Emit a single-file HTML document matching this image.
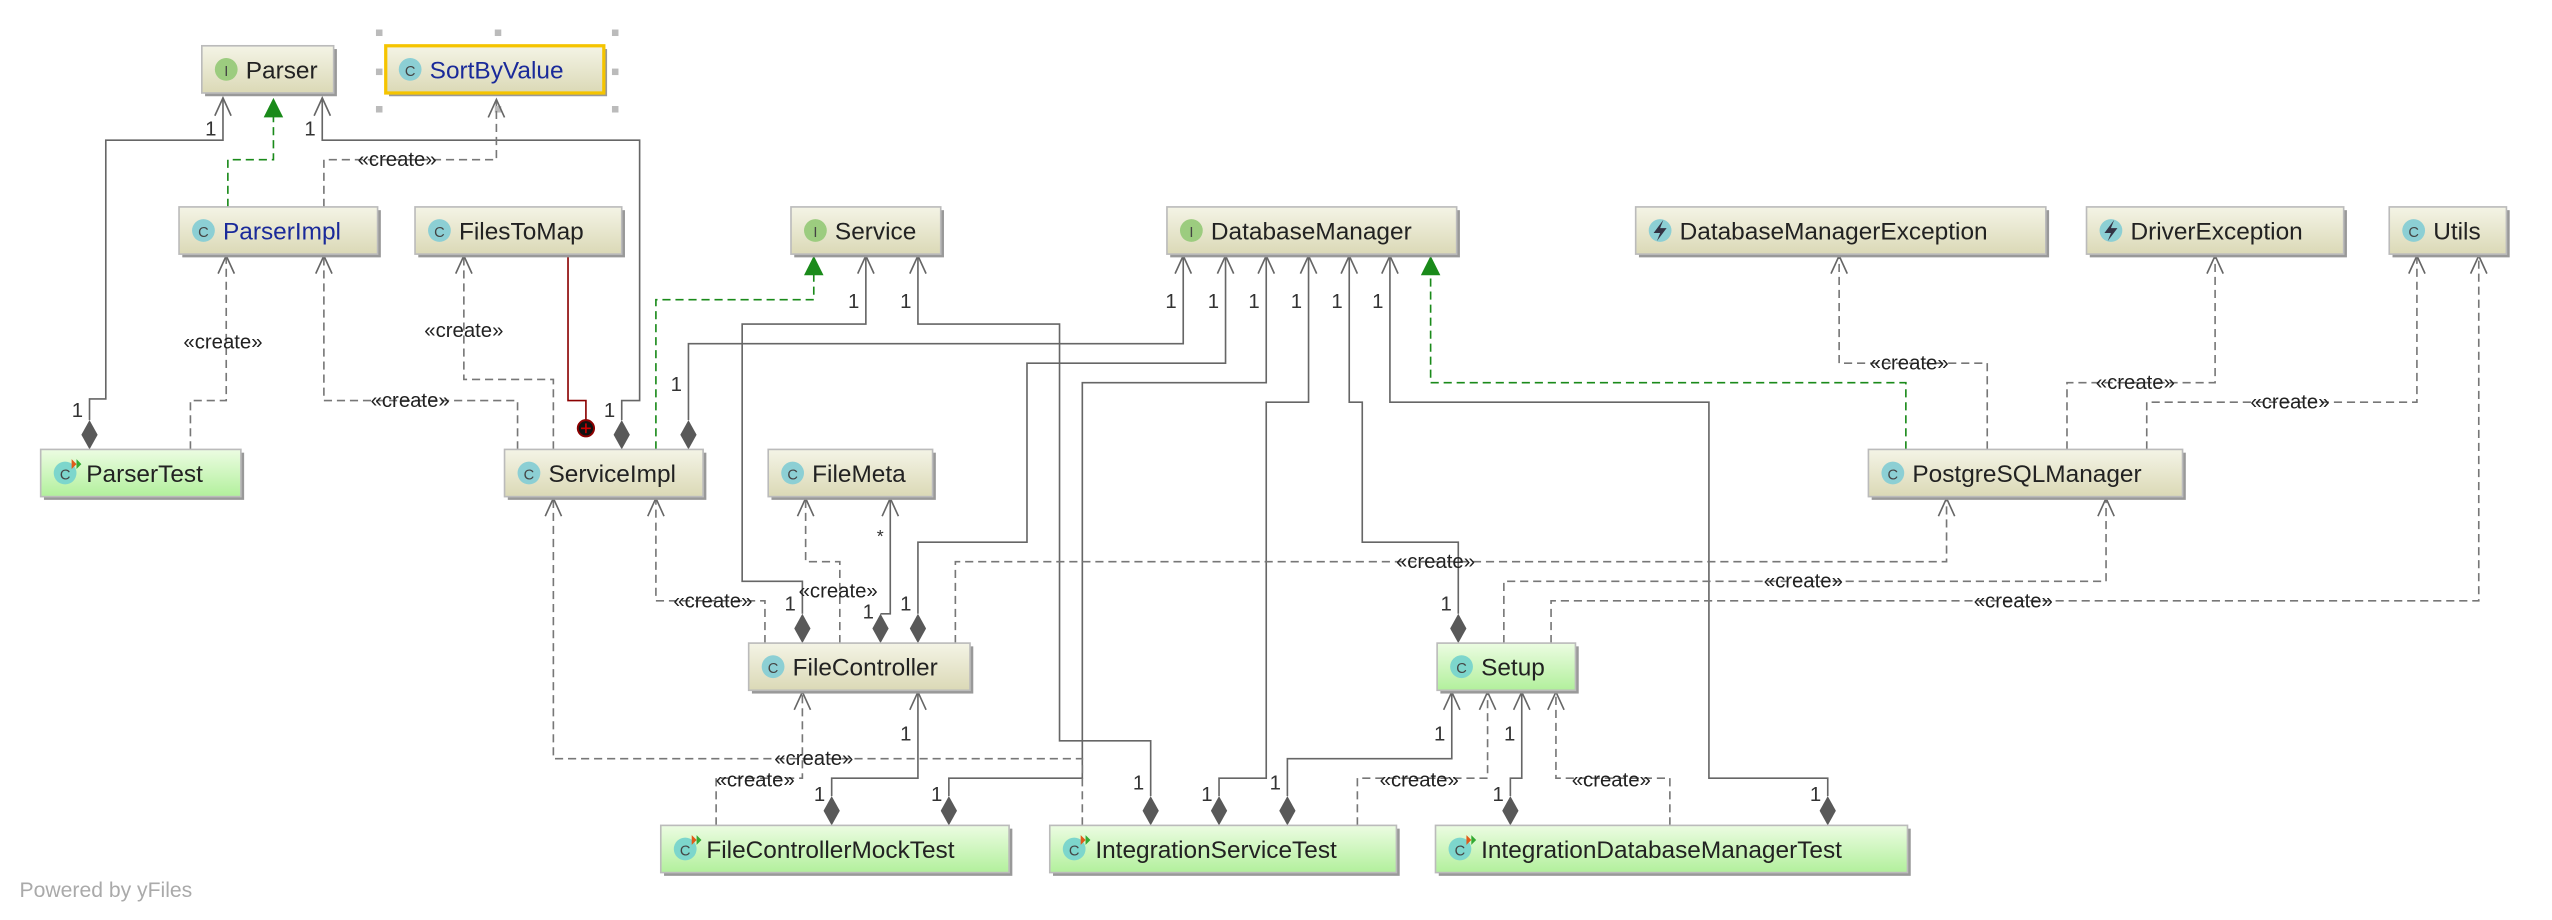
<!DOCTYPE html>
<html><head><meta charset="utf-8"><style>
html,body{margin:0;padding:0;background:#fff;}
svg{display:block;}
text{font-family:"Liberation Sans",sans-serif;}
</style></head><body>
<svg width="2552" height="920" viewBox="0 0 1568 565" xmlns="http://www.w3.org/2000/svg">
<defs>
<linearGradient id="bg" x1="0" y1="0" x2="0" y2="1"><stop offset="0" stop-color="#f4f4e6"/><stop offset="1" stop-color="#dbd9b6"/></linearGradient>
<linearGradient id="gg" x1="0" y1="0" x2="0" y2="1"><stop offset="0" stop-color="#ecfce2"/><stop offset="1" stop-color="#b2f09c"/></linearGradient>
</defs>

<!-- selection handles -->
<g fill="#bbb">
<rect x="231" y="18" width="4" height="4"/><rect x="304" y="18" width="4" height="4"/><rect x="376" y="18" width="4" height="4"/>
<rect x="231" y="42" width="4" height="4"/><rect x="376" y="42" width="4" height="4"/>
<rect x="231" y="65" width="4" height="4"/><rect x="304" y="65" width="4" height="4"/><rect x="376" y="65" width="4" height="4"/>
</g>

<!-- solid edges -->
<g fill="none" stroke="#666" stroke-width="1">
<polyline points="137,60 137,86 65,86 65,245 55,245 55,258"/>
<polyline points="198,60 198,86 393,86 393,246 382,246 382,258"/>
<polyline points="727,156 727,211 423,211 423,258"/>
<polyline points="532,156 532,199 456,199 456,357 493,357 493,377"/>
<polyline points="564,156 564,199 651,199 651,455 707,455 707,489"/>
<polyline points="753,156 753,223 631,223 631,333 564,333 564,377"/>
<polyline points="778,156 778,235 665,235 665,478 583,478 583,489"/>
<polyline points="804,156 804,247 778,247 778,478 749,478 749,489"/>
<polyline points="829,156 829,247 837,247 837,333 896,333 896,377"/>
<polyline points="854,156 854,247 1050,247 1050,478 1123,478 1123,489"/>
<polyline points="547,305 547,377 541,377"/>
<polyline points="564,424 564,478 511,478 511,489"/>
<polyline points="892,424 892,466 791,466 791,489"/>
<polyline points="935,424 935,478 928,478 928,489"/>
</g>
<polyline points="349,156 349,246 360,246 360,258" fill="none" stroke="#8b0000" stroke-width="1"/>
<circle cx="360" cy="263" r="5" fill="#111" stroke="#8b0000" stroke-width="1.2"/>
<path d="M357,263h6M360,260v6" stroke="#c00" stroke-width="1"/>

<!-- dashed edges -->
<g fill="none" stroke="#777" stroke-width="1" stroke-dasharray="5,3">
<polyline points="199,127 199,98 305,98 305,61"/>
<polyline points="117,276 117,246 139,246 139,157"/>
<polyline points="318,276 318,246 199,246 199,157"/>
<polyline points="340,276 340,233 285,233 285,157"/>
<polyline points="470,395 470,369 403,369 403,306"/>
<polyline points="516,395 516,345 495,345 495,306"/>
<polyline points="587,395 587,345 1196,345 1196,306"/>
<polyline points="924,395 924,357 1294,357 1294,306"/>
<polyline points="953,395 953,369 1523,369 1523,157"/>
<polyline points="1221,276 1221,223 1130,223 1130,157"/>
<polyline points="1270,276 1270,235 1361,235 1361,157"/>
<polyline points="1319,276 1319,247 1485,247 1485,157"/>
<polyline points="440,507 440,478 493,478 493,425"/>
<polyline points="665,507 665,466 340,466 340,306"/>
<polyline points="834,507 834,478 914,478 914,425"/>
<polyline points="1026,507 1026,478 956,478 956,425"/>
</g>
<g fill="none" stroke="#1a8a1a" stroke-width="1" stroke-dasharray="5,3">
<polyline points="140,127 140,98 168,98 168,70"/>
<polyline points="403,276 403,184 500,184 500,168"/>
<polyline points="1171,276 1171,235 879,235 879,168"/>
</g>
<g fill="#1a8a1a">
<polygon points="168,60 162,72 174,72"/>
<polygon points="500,157 494,169 506,169"/>
<polygon points="879,157 873,169 885,169"/>
</g>

<!-- open arrows -->
<g fill="none" stroke="#666" stroke-width="1">
<polyline points="132,71 137,60 142,71"/><polyline points="193,71 198,60 203,71"/>
<polyline points="300,72 305,61 310,72"/>
<polyline points="134,168 139,157 144,168"/><polyline points="194,168 199,157 204,168"/><polyline points="280,168 285,157 290,168"/>
<polyline points="527,168 532,157 537,168"/><polyline points="559,168 564,157 569,168"/>
<polyline points="722,168 727,157 732,168"/><polyline points="748,168 753,157 758,168"/><polyline points="773,168 778,157 783,168"/>
<polyline points="799,168 804,157 809,168"/><polyline points="824,168 829,157 834,168"/><polyline points="849,168 854,157 859,168"/>
<polyline points="1125,168 1130,157 1135,168"/><polyline points="1356,168 1361,157 1366,168"/>
<polyline points="1480,168 1485,157 1490,168"/><polyline points="1518,168 1523,157 1528,168"/>
<polyline points="335,317 340,306 345,317"/><polyline points="398,317 403,306 408,317"/>
<polyline points="490,317 495,306 500,317"/><polyline points="542,317 547,306 552,317"/>
<polyline points="1191,317 1196,306 1201,317"/><polyline points="1289,317 1294,306 1299,317"/>
<polyline points="488,436 493,425 498,436"/><polyline points="559,436 564,425 569,436"/>
<polyline points="887,436 892,425 897,436"/><polyline points="909,436 914,425 919,436"/>
<polyline points="930,436 935,425 940,436"/><polyline points="951,436 956,425 961,436"/>
</g>

<!-- diamonds -->
<g fill="#595959">
<polygon points="55,276 60,267 55,258 50,267"/>
<polygon points="382,276 387,267 382,258 377,267"/>
<polygon points="423,276 428,267 423,258 418,267"/>
<polygon points="493,395 498,386 493,377 488,386"/>
<polygon points="541,395 546,386 541,377 536,386"/>
<polygon points="564,395 569,386 564,377 559,386"/>
<polygon points="896,395 901,386 896,377 891,386"/>
<polygon points="511,507 516,498 511,489 506,498"/>
<polygon points="583,507 588,498 583,489 578,498"/>
<polygon points="707,507 712,498 707,489 702,498"/>
<polygon points="749,507 754,498 749,489 744,498"/>
<polygon points="791,507 796,498 791,489 786,498"/>
<polygon points="928,507 933,498 928,489 923,498"/>
<polygon points="1123,507 1128,498 1123,489 1118,498"/>
</g>

<!-- labels -->
<g font-size="12.5" fill="#222" text-anchor="middle">
<text x="244" y="102">«create»</text>
<text x="137" y="214">«create»</text>
<text x="252" y="250">«create»</text>
<text x="285" y="207">«create»</text>
<text x="438" y="373">«create»</text>
<text x="515" y="367">«create»</text>
<text x="882" y="349">«create»</text>
<text x="1108" y="361">«create»</text>
<text x="1237" y="373">«create»</text>
<text x="1173" y="227">«create»</text>
<text x="1312" y="239">«create»</text>
<text x="1407" y="251">«create»</text>
<text x="464" y="483">«create»</text>
<text x="500" y="470">«create»</text>
<text x="872" y="483">«create»</text>
<text x="990" y="483">«create»</text>
</g>
<g font-size="12.5" fill="#333" text-anchor="end">
<text x="133" y="83">1</text><text x="194" y="83">1</text>
<text x="51" y="256">1</text><text x="378" y="256">1</text><text x="419" y="240">1</text>
<text x="528" y="189">1</text><text x="560" y="189">1</text>
<text x="723" y="189">1</text><text x="749" y="189">1</text><text x="774" y="189">1</text>
<text x="800" y="189">1</text><text x="825" y="189">1</text><text x="850" y="189">1</text>
<text x="489" y="375">1</text><text x="537" y="380">1</text><text x="560" y="375">1</text>
<text x="892" y="375">1</text><text x="560" y="455">1</text>
<text x="507" y="492">1</text><text x="579" y="492">1</text>
<text x="703" y="485">1</text><text x="745" y="492">1</text><text x="787" y="485">1</text>
<text x="888" y="455">1</text><text x="931" y="455">1</text>
<text x="924" y="492">1</text><text x="1119" y="492">1</text>
<text x="543" y="333" font-size="11">*</text>
</g>

<!-- boxes -->
<g font-size="15">
<!-- Parser -->
<rect x="126" y="30" width="81" height="29" fill="#999"/>
<rect x="124" y="28" width="81" height="29" fill="url(#bg)" stroke="#bbb"/>
<circle cx="139" cy="42.5" r="7" fill="#9ccc7f"/><text x="139" y="46.5" font-size="9" text-anchor="middle" fill="#444">I</text>
<text x="151" y="48" fill="#222">Parser</text>
<!-- SortByValue -->
<rect x="239" y="30" width="134" height="29" fill="#999"/>
<rect x="237" y="28" width="134" height="29" fill="url(#bg)" stroke="#f5c400" stroke-width="2"/>
<circle cx="252" cy="42.5" r="7" fill="#8ccfd4"/><text x="252" y="46.5" font-size="9" text-anchor="middle" fill="#444">C</text>
<text x="264" y="48" fill="#1a2a9a">SortByValue</text>
<!-- ParserImpl -->
<rect x="112" y="129" width="122" height="29" fill="#999"/>
<rect x="110" y="127" width="122" height="29" fill="url(#bg)" stroke="#bbb"/>
<circle cx="125" cy="141.5" r="7" fill="#8ccfd4"/><text x="125" y="145.5" font-size="9" text-anchor="middle" fill="#444">C</text>
<text x="137" y="147" fill="#1a2a9a">ParserImpl</text>
<!-- FilesToMap -->
<rect x="257" y="129" width="127" height="29" fill="#999"/>
<rect x="255" y="127" width="127" height="29" fill="url(#bg)" stroke="#bbb"/>
<circle cx="270" cy="141.5" r="7" fill="#8ccfd4"/><text x="270" y="145.5" font-size="9" text-anchor="middle" fill="#444">C</text>
<text x="282" y="147" fill="#222">FilesToMap</text>
<!-- Service -->
<rect x="488" y="129" width="92" height="29" fill="#999"/>
<rect x="486" y="127" width="92" height="29" fill="url(#bg)" stroke="#bbb"/>
<circle cx="501" cy="141.5" r="7" fill="#9ccc7f"/><text x="501" y="145.5" font-size="9" text-anchor="middle" fill="#444">I</text>
<text x="513" y="147" fill="#222">Service</text>
<!-- DatabaseManager -->
<rect x="719" y="129" width="178" height="29" fill="#999"/>
<rect x="717" y="127" width="178" height="29" fill="url(#bg)" stroke="#bbb"/>
<circle cx="732" cy="141.5" r="7" fill="#9ccc7f"/><text x="732" y="145.5" font-size="9" text-anchor="middle" fill="#444">I</text>
<text x="744" y="147" fill="#222">DatabaseManager</text>
<!-- DatabaseManagerException -->
<rect x="1007" y="129" width="252" height="29" fill="#999"/>
<rect x="1005" y="127" width="252" height="29" fill="url(#bg)" stroke="#bbb"/>
<circle cx="1020" cy="141.5" r="7" fill="#8ccfd4"/><polygon points="1022,135 1016,143 1020,143 1018,148 1024,140 1020,140" fill="#334"/>
<text x="1032" y="147" fill="#222">DatabaseManagerException</text>
<!-- DriverException -->
<rect x="1284" y="129" width="158" height="29" fill="#999"/>
<rect x="1282" y="127" width="158" height="29" fill="url(#bg)" stroke="#bbb"/>
<circle cx="1297" cy="141.5" r="7" fill="#8ccfd4"/><polygon points="1299,135 1293,143 1297,143 1295,148 1301,140 1297,140" fill="#334"/>
<text x="1309" y="147" fill="#222">DriverException</text>
<!-- Utils -->
<rect x="1470" y="129" width="72" height="29" fill="#999"/>
<rect x="1468" y="127" width="72" height="29" fill="url(#bg)" stroke="#bbb"/>
<circle cx="1483" cy="141.5" r="7" fill="#8ccfd4"/><text x="1483" y="145.5" font-size="9" text-anchor="middle" fill="#444">C</text>
<text x="1495" y="147" fill="#222">Utils</text>
<!-- ParserTest -->
<rect x="27" y="278" width="123" height="29" fill="#999"/>
<rect x="25" y="276" width="123" height="29" fill="url(#gg)" stroke="#bbb"/>
<circle cx="40" cy="290.5" r="7" fill="#7dd6cc"/><text x="40" y="294.5" font-size="9" text-anchor="middle" fill="#444">C</text><polygon points="44,282 47,285 44,288" fill="#e05a1a"/><polygon points="47,282 50,285 47,288" fill="#3a3"/>
<text x="53" y="296" fill="#222">ParserTest</text>
<!-- ServiceImpl -->
<rect x="312" y="278" width="122" height="29" fill="#999"/>
<rect x="310" y="276" width="122" height="29" fill="url(#bg)" stroke="#bbb"/>
<circle cx="325" cy="290.5" r="7" fill="#8ccfd4"/><text x="325" y="294.5" font-size="9" text-anchor="middle" fill="#444">C</text>
<text x="337" y="296" fill="#222">ServiceImpl</text>
<!-- FileMeta -->
<rect x="474" y="278" width="101" height="29" fill="#999"/>
<rect x="472" y="276" width="101" height="29" fill="url(#bg)" stroke="#bbb"/>
<circle cx="487" cy="290.5" r="7" fill="#8ccfd4"/><text x="487" y="294.5" font-size="9" text-anchor="middle" fill="#444">C</text>
<text x="499" y="296" fill="#222">FileMeta</text>
<!-- PostgreSQLManager -->
<rect x="1150" y="278" width="193" height="29" fill="#999"/>
<rect x="1148" y="276" width="193" height="29" fill="url(#bg)" stroke="#bbb"/>
<circle cx="1163" cy="290.5" r="7" fill="#8ccfd4"/><text x="1163" y="294.5" font-size="9" text-anchor="middle" fill="#444">C</text>
<text x="1175" y="296" fill="#222">PostgreSQLManager</text>
<!-- FileController -->
<rect x="462" y="397" width="136" height="29" fill="#999"/>
<rect x="460" y="395" width="136" height="29" fill="url(#bg)" stroke="#bbb"/>
<circle cx="475" cy="409.5" r="7" fill="#8ccfd4"/><text x="475" y="413.5" font-size="9" text-anchor="middle" fill="#444">C</text>
<text x="487" y="415" fill="#222">FileController</text>
<!-- Setup -->
<rect x="885" y="397" width="85" height="29" fill="#999"/>
<rect x="883" y="395" width="85" height="29" fill="url(#gg)" stroke="#bbb"/>
<circle cx="898" cy="409.5" r="7" fill="#7dd6cc"/><text x="898" y="413.5" font-size="9" text-anchor="middle" fill="#444">C</text>
<text x="910" y="415" fill="#222">Setup</text>
<!-- FileControllerMockTest -->
<rect x="408" y="509" width="214" height="29" fill="#999"/>
<rect x="406" y="507" width="214" height="29" fill="url(#gg)" stroke="#bbb"/>
<circle cx="421" cy="521.5" r="7" fill="#7dd6cc"/><text x="421" y="525.5" font-size="9" text-anchor="middle" fill="#444">C</text><polygon points="425,513 428,516 425,519" fill="#e05a1a"/><polygon points="428,513 431,516 428,519" fill="#3a3"/>
<text x="434" y="527" fill="#222">FileControllerMockTest</text>
<!-- IntegrationServiceTest -->
<rect x="647" y="509" width="213" height="29" fill="#999"/>
<rect x="645" y="507" width="213" height="29" fill="url(#gg)" stroke="#bbb"/>
<circle cx="660" cy="521.5" r="7" fill="#7dd6cc"/><text x="660" y="525.5" font-size="9" text-anchor="middle" fill="#444">C</text><polygon points="664,513 667,516 664,519" fill="#e05a1a"/><polygon points="667,513 670,516 667,519" fill="#3a3"/>
<text x="673" y="527" fill="#222">IntegrationServiceTest</text>
<!-- IntegrationDatabaseManagerTest -->
<rect x="884" y="509" width="290" height="29" fill="#999"/>
<rect x="882" y="507" width="290" height="29" fill="url(#gg)" stroke="#bbb"/>
<circle cx="897" cy="521.5" r="7" fill="#7dd6cc"/><text x="897" y="525.5" font-size="9" text-anchor="middle" fill="#444">C</text><polygon points="901,513 904,516 901,519" fill="#e05a1a"/><polygon points="904,513 907,516 904,519" fill="#3a3"/>
<text x="910" y="527" fill="#222">IntegrationDatabaseManagerTest</text>
</g>

<text x="12" y="551" font-size="13" fill="#aaa">Powered by yFiles</text>
</svg>
</body></html>
